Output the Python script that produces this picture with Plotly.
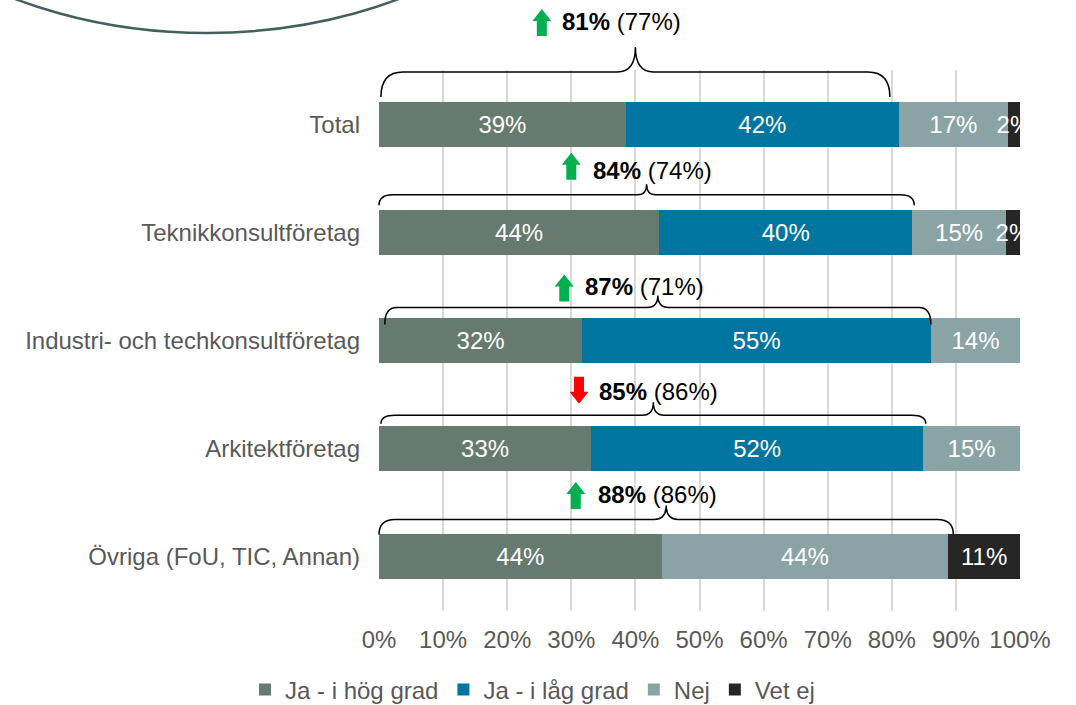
import plotly.graph_objects as go

# ---------------- data ----------------
categories = ["Total", "Teknikkonsultföretag", "Industri- och techkonsultföretag",
              "Arkitektföretag", "Övriga (FoU, TIC, Annan)"]
series_names = ["Ja - i hög grad", "Ja - i låg grad", "Nej", "Vet ej"]

# bar lengths (%)
ja_hog = [38.5, 43.7, 31.7, 33.1, 44.1]
ja_lag = [42.6, 39.5, 54.4, 51.8, None]
nej = [17.0, 14.6, 13.9, 15.1, 44.7]
vet_ej = [1.9, 2.2, None, None, 11.2]

# printed data labels (%)
lab_ja_hog = [39, 44, 32, 33, 44]
lab_ja_lag = [42, 40, 55, 52, None]
lab_nej = [17, 15, 14, 15, 44]
lab_vet_ej = [2, 2, None, None, 11]

# "Ja" total this year and (previous year)
ja_total_now = [81, 84, 87, 85, 88]
ja_total_prev = [77, 74, 71, 86, 86]

x_tickvals = [0, 10, 20, 30, 40, 50, 60, 70, 80, 90, 100]
x_ticktext = [f"{v}%" for v in x_tickvals]

# ---------------- style ----------------
colors = ["#667A70", "#00759F", "#8AA4A5", "#262626"]
FONT = "Liberation Sans, Arial, sans-serif"
GREY = "#595959"
W, H = 1076, 705
M_L, M_R, M_T, M_B = 379, 56, 70, 94
PLOT_W = W - M_L - M_R
PLOT_H = H - M_T - M_B
PX_PER_PCT = PLOT_W / 100.0
X_RANGE = [0, 100]
Y_RANGE = [len(categories) - 0.5, -0.5]   # reversed: first category on top


def px2paper_x(px):
    return (px - M_L) / PLOT_W


def px2paper_y(py):
    return (H - M_B - py) / PLOT_H


def xval2paper(v):
    return (v - X_RANGE[0]) / (X_RANGE[1] - X_RANGE[0])


def cat2paper(i):
    return (Y_RANGE[0] - i) / (Y_RANGE[0] - Y_RANGE[1])


fig = go.Figure()
series_vals = [ja_hog, ja_lag, nej, vet_ej]
series_labs = [lab_ja_hog, lab_ja_lag, lab_nej, lab_vet_ej]
for name, vals, labs, col in zip(series_names, series_vals, series_labs, colors):
    fig.add_trace(go.Bar(
        y=categories, x=vals, name=name, orientation="h",
        marker=dict(color=col, line=dict(width=0)),
        text=["" if l is None else f"{l}%" for l in labs],
        textposition="inside", insidetextanchor="middle", textangle=0,
        constraintext="none",
        textfont=dict(family=FONT, size=24, color="white"),
        hoverinfo="skip",
    ))

# ---------------- braces, arrows, annotations ----------------
# brace geometry: left %, right %, end/horizontal/tip offsets (px above bar centre),
# corner width px, cusp half-width px
braces = [
    (0.3, 79.7, 27, 52, 77, 22, 18),
    (0.0, 83.5, 27, 37.5, 48, 14, 9),
    (0.9, 86.1, 16, 33, 45, 12, 11),
    (0.3, 85.3, 25, 33.5, 46.5, 14, 11),
    (0.0, 89.6, 22.5, 37.5, 51.5, 16, 12),
]
# arrow centre x (%), arrow bottom offset (px above bar centre)
arrows = [(25.4, 88), (30.0, 52.5), (28.9, 39), (31.2, 45), (30.7, 48)]
# annotation text left x (%), vertical offset (px)
labels_pos = [(28.3, 103), (33.1, 61.5), (31.8, 54.5), (34.0, 57), (33.8, 62.5)]

shapes = []
for i, (L, R, e, h, t, cw, hw) in enumerate(braces):
    C = (L + R) / 2
    cwx = cw / PX_PER_PCT
    hwx = hw / PX_PER_PCT
    P = xval2paper
    path = (f"M{P(L)},{e} Q{P(L)},{h} {P(L + cwx)},{h} L{P(C - hwx)},{h} "
            f"Q{P(C)},{h} {P(C)},{t} Q{P(C)},{h} {P(C + hwx)},{h} "
            f"L{P(R - cwx)},{h} Q{P(R)},{h} {P(R)},{e}")
    shapes.append(dict(type="path", xref="paper", yref="paper", ysizemode="pixel",
                       yanchor=cat2paper(i), path=path, layer="above",
                       line=dict(color="black", width=1.5)))

AH = 27    # arrow height px
HH = 12    # head height px
SW = 5     # shaft half width
HWD = 9.5  # head half width
for i, ((ax_, b), now, prev) in enumerate(zip(arrows, ja_total_now, ja_total_prev)):
    if now >= prev:
        p = (f"M{-SW},{b} L{SW},{b} L{SW},{b + AH - HH} L{HWD},{b + AH - HH} "
             f"L0,{b + AH} L{-HWD},{b + AH - HH} L{-SW},{b + AH - HH} Z")
        col = "#00B050"
    else:
        p = (f"M{-SW},{b + AH} L{SW},{b + AH} L{SW},{b + HH} L{HWD},{b + HH} "
             f"L0,{b} L{-HWD},{b + HH} L{-SW},{b + HH} Z")
        col = "#FF0000"
    shapes.append(dict(type="path", xref="paper", yref="paper", xsizemode="pixel",
                       ysizemode="pixel", xanchor=xval2paper(ax_), yanchor=cat2paper(i),
                       path=p, fillcolor=col, line=dict(width=0), layer="above"))

# decorative ellipse at the top-left
ex0, ex1, ey0, ey1 = -193, 607, -523, 33
shapes.append(dict(type="circle", xref="paper", yref="paper",
                   x0=px2paper_x(ex0), x1=px2paper_x(ex1),
                   y0=px2paper_y(ey1), y1=px2paper_y(ey0),
                   line=dict(color="#435F5E", width=2.5), layer="above"))

annotations = []
for cat, (lx, off), now, prev in zip(categories, labels_pos, ja_total_now, ja_total_prev):
    annotations.append(dict(
        x=lx, y=cat, xref="x", yref="y", xanchor="left", yanchor="middle",
        yshift=off, showarrow=False,
        text=f"<b>{now}%</b> ({prev}%)",
        font=dict(family=FONT, size=24, color="black"),
    ))

fig.update_layout(
    width=W, height=H,
    margin=dict(l=M_L, r=M_R, t=M_T, b=M_B, pad=0, autoexpand=False),
    paper_bgcolor="white", plot_bgcolor="white",
    barmode="stack", bargap=0.584,
    font=dict(family=FONT, size=24, color=GREY),
    showlegend=True,
    legend=dict(orientation="h", x=px2paper_x(245), xanchor="left",
                y=px2paper_y(690), yanchor="middle",
                font=dict(family=FONT, size=24, color=GREY),
                traceorder="normal", bgcolor="rgba(0,0,0,0)"),
    shapes=shapes,
    annotations=annotations,
)
fig.update_xaxes(range=X_RANGE, tickvals=x_tickvals, ticktext=x_ticktext,
                 showgrid=True, gridcolor="#D9D9D9", gridwidth=1.5,
                 zeroline=False, showline=False, ticks="",
                 ticklabelstandoff=12, automargin=False,
                 tickfont=dict(family=FONT, size=24, color=GREY))
fig.update_yaxes(type="category", categoryorder="array", categoryarray=categories,
                 range=Y_RANGE, showgrid=False, zeroline=False,
                 showline=False, ticks="", ticklabelstandoff=18, automargin=False,
                 tickfont=dict(family=FONT, size=24, color=GREY))

fig.write_html("out.html", config={"displayModeBar": False},
               post_script="document.body.style.margin='0';")
